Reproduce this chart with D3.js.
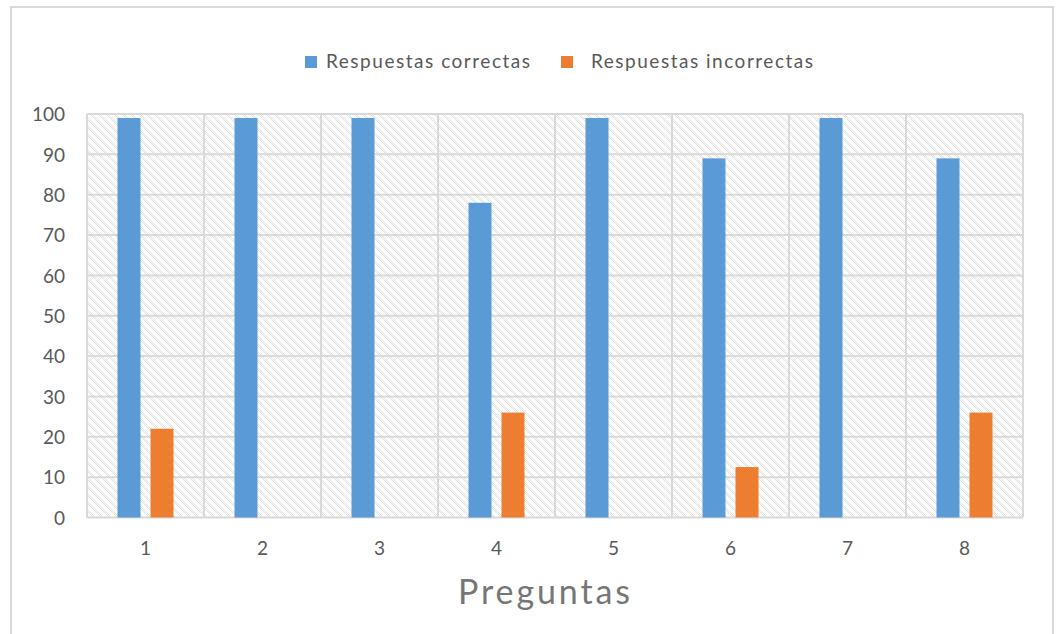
<!DOCTYPE html>
<html>
<head>
<meta charset="utf-8">
<script src="https://cdn.jsdelivr.net/npm/d3@7"></script>
<style>
  html, body { margin: 0; padding: 0; background: #fff; }
  svg { display: block; }
  text { font-family: Lato, "Open Sans", sans-serif; fill: #595959; }
</style>
</head>
<body>
<svg id="chart" width="1059" height="634"></svg>
<script>
// Data
const categories = ["1", "2", "3", "4", "5", "6", "7", "8"];
const correctas   = [99, 99, 99, 78, 99, 89, 99, 89];
const incorrectas = [22, 0, 0, 26, 0, 12.5, 0, 26];
const seriesNames = ["Respuestas correctas", "Respuestas incorrectas"];
const seriesColors = ["#5b9bd5", "#ed7d31"];
const yTicks = [0, 10, 20, 30, 40, 50, 60, 70, 80, 90, 100];
const xTitle = "Preguntas";

const svg = d3.select("#chart");
const plot = { left: 87, top: 114, right: 1023, bottom: 517.5 };

// Hatched fill for the plot area (dotted downward diagonals)
const defs = svg.append("defs");
const pat = defs.append("pattern")
  .attr("id", "hatch")
  .attr("patternUnits", "userSpaceOnUse")
  .attr("width", 8).attr("height", 8);
for (let yy = 0; yy < 8; yy++) {
  for (let xx = 0; xx < 8; xx++) {
    const d = ((xx - yy) % 8 + 8) % 8;
    if ((d === 0 || d === 2) && (xx + yy) % 2 === 0) {
      pat.append("rect").attr("x", xx).attr("y", yy).attr("width", 1).attr("height", 1)
        .attr("fill", "#e0e0e0");
    }
  }
}

// Outer chart frame
svg.append("rect")
  .attr("x", 11).attr("y", 7).attr("width", 1042).attr("height", 640)
  .attr("fill", "#fff").attr("stroke", "#d9d9d9").attr("stroke-width", 2);

// Scales
const x0 = d3.scaleBand().domain(categories).range([plot.left, plot.right]).paddingInner(0).paddingOuter(0);
const y = d3.scaleLinear().domain([0, 100]).range([plot.bottom, plot.top]);

// Plot background
svg.append("rect")
  .attr("x", plot.left).attr("y", plot.top)
  .attr("width", plot.right - plot.left).attr("height", plot.bottom - plot.top)
  .attr("fill", "url(#hatch)");

// Horizontal gridlines
svg.append("g").selectAll("line").data(yTicks).join("line")
  .attr("x1", plot.left).attr("x2", plot.right)
  .attr("y1", d => y(d)).attr("y2", d => y(d))
  .attr("stroke", "#d9d9d9").attr("stroke-width", 2);

// Vertical gridlines at category boundaries
const bounds = categories.map(c => x0(c)).concat([plot.right]);
svg.append("g").selectAll("line").data(bounds).join("line")
  .attr("x1", d => d).attr("x2", d => d)
  .attr("y1", plot.top).attr("y2", plot.bottom)
  .attr("stroke", "#d9d9d9").attr("stroke-width", 2);

// Bars
const barW = 23, gap = 10;
const offset = (x0.bandwidth() - (2 * barW + gap)) / 2;
const series = [correctas, incorrectas];
series.forEach((vals, si) => {
  svg.append("g").selectAll("rect").data(vals).join("rect")
    .attr("x", (d, i) => x0(categories[i]) + offset + si * (barW + gap))
    .attr("y", d => y(d))
    .attr("width", barW)
    .attr("height", d => y(0) - y(d))
    .attr("fill", seriesColors[si]);
});

// Y axis labels
const yAxis = d3.axisLeft(y).tickValues(yTicks).tickSize(0).tickPadding(22);
const gy = svg.append("g").attr("transform", `translate(${plot.left},0)`).call(yAxis);
gy.select(".domain").remove();
gy.selectAll("text").style("font-size", "19px").attr("fill", "#595959")
  .attr("font-family", "Lato, 'Open Sans', sans-serif").attr("dy", "0.35em");

// X axis labels
const xAxis = d3.axisBottom(x0).tickSize(0).tickPadding(24);
const gx = svg.append("g").attr("transform", `translate(0,${plot.bottom})`).call(xAxis);
gx.select(".domain").remove();
gx.selectAll("text").style("font-size", "19px").attr("fill", "#595959")
  .attr("font-family", "Lato, 'Open Sans', sans-serif");

// Axis title
svg.append("text")
  .attr("x", 458).attr("y", 604)
  .attr("text-anchor", "start")
  .attr("textLength", 172).attr("lengthAdjust", "spacing")
  .style("font-size", "34px").style("fill", "#767676")
  .text(xTitle);

// Legend
const legendItems = [
  { name: seriesNames[0], color: seriesColors[0], sx: 305, tx: 326, tl: 204 },
  { name: seriesNames[1], color: seriesColors[1], sx: 561, tx: 591, tl: 222 }
];
const lg = svg.append("g");
legendItems.forEach(it => {
  lg.append("rect").attr("x", it.sx).attr("y", 56).attr("width", 12).attr("height", 12)
    .attr("fill", it.color);
  lg.append("text").attr("x", it.tx).attr("y", 68)
    .attr("textLength", it.tl).attr("lengthAdjust", "spacing")
    .style("font-size", "19px").text(it.name);
});
</script>
</body>
</html>
